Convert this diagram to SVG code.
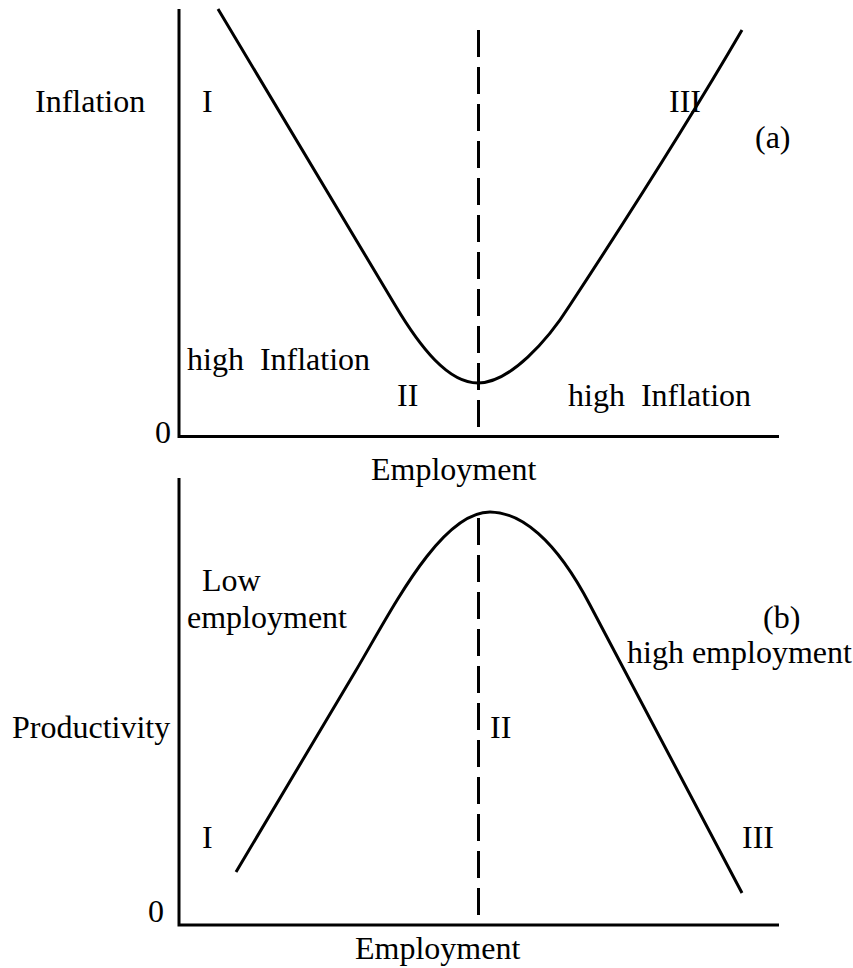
<svg xmlns="http://www.w3.org/2000/svg" width="853" height="968" viewBox="0 0 853 968">
<style>
text{font-family:"Liberation Serif","Times New Roman",serif;font-size:32px;fill:#000;white-space:pre}
.ax{stroke:#000;stroke-width:3;fill:none}
.cv{stroke:#000;stroke-width:3;fill:none;stroke-linejoin:round}
.dash{stroke:#000;stroke-width:3;fill:none;stroke-dasharray:27 10}
</style>
<rect width="853" height="968" fill="#fff"/>
<g id="chart-a">
  <g id="axes-a">
    <path class="ax" d="M179,9 V436.5 H779"/>
  </g>
  <g id="connectors-a">
    <path class="dash" d="M478.5,30 V435"/>
    <path id="curve-a" class="cv" d="M218,9 L395,305 C420,347 448,383 478,383 C510,383 548,340 570,305 C631,212 689,121 742,30"/>
  </g>
  <g id="labels-a">
    <text x="35" y="111.5">Inflation</text>
    <text x="202" y="111.5">I</text>
    <text x="669" y="112">III</text>
    <text x="755" y="148">(a)</text>
    <text x="187" y="370" xml:space="preserve">high  Inflation</text>
    <text x="397" y="406">II</text>
    <text x="568" y="406" xml:space="preserve">high  Inflation</text>
    <text x="155" y="443">0</text>
    <text x="371" y="480">Employment</text>
  </g>
</g>
<g id="chart-b">
  <g id="axes-b">
    <path class="ax" d="M179,478 V925 H779"/>
  </g>
  <g id="connectors-b">
    <path class="dash" d="M478.5,518 V924"/>
    <path id="curve-b" class="cv" d="M236,872 L355,672 C390.7,612 440,512 490,512 C520,512 555,538 590,605 L742,893"/>
  </g>
  <g id="labels-b">
    <text x="202" y="591">Low</text>
    <text x="187" y="628">employment</text>
    <text x="763" y="628">(b)</text>
    <text x="627" y="663">high employment</text>
    <text x="12" y="738">Productivity</text>
    <text x="490" y="738">II</text>
    <text x="202" y="848">I</text>
    <text x="742" y="848">III</text>
    <text x="148" y="922">0</text>
    <text x="355" y="959">Employment</text>
  </g>
</g>
</svg>
